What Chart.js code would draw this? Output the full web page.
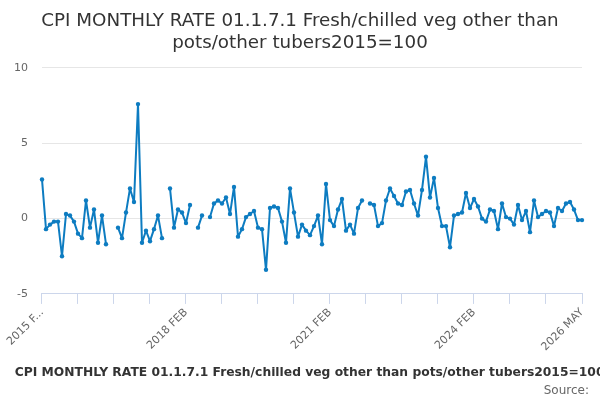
<!DOCTYPE html>
<html>
<head>
<meta charset="utf-8">
<script src="https://cdn.jsdelivr.net/npm/chart.js@4/dist/chart.umd.min.js"></script>
<style>
  html, body { margin: 0; padding: 0; background: #fff; }
  #wrap { width: 600px; height: 400px; }
</style>
</head>
<body>
<div id="wrap"><canvas id="cpiChart"></canvas></div>
<script>
// Dane wykresu
const titleLines = ["CPI MONTHLY RATE 01.1.7.1 Fresh/chilled veg other than", "pots/other tubers2015=100"];
const seriesName = "CPI MONTHLY RATE 01.1.7.1 Fresh/chilled veg other than pots/other tubers2015=100";
const monthNames = ["JAN", "FEB", "MAR", "APR", "MAY", "JUN", "JUL", "AUG", "SEP", "OCT", "NOV", "DEC"];
const startYear = 2015;
const startMonth = 1; // FEB
const monthlyRate = [
  2.6, -0.7, -0.4, -0.2, -0.2, -2.5, 0.3, 0.2, -0.2, -1.0, -1.3, 1.2,
  -0.6, 0.6, -1.6, 0.2, -1.7, null, null, -0.6, -1.3, 0.4, 2.0, 1.1,
  7.6, -1.6, -0.8, -1.5, -0.7, 0.2, -1.3, null, 2.0, -0.6, 0.6, 0.4,
  -0.3, 0.9, null, -0.6, 0.2, null, 0.1, 1.0, 1.2, 1.0, 1.4, 0.3,
  2.1, -1.2, -0.7, 0.1, 0.3, 0.5, -0.6, -0.7, -3.4, 0.7, 0.8, 0.7,
  -0.2, -1.6, 2.0, 0.4, -1.2, -0.4, -0.8, -1.1, -0.5, 0.2, -1.7, 2.3,
  -0.1, -0.5, 0.6, 1.3, -0.8, -0.4, -1.0, 0.7, 1.2, null, 1.0, 0.9,
  -0.5, -0.3, 1.2, 2.0, 1.5, 1.0, 0.9, 1.8, 1.9, 1.0, 0.2, 1.9,
  4.1, 1.4, 2.7, 0.7, -0.5, -0.5, -1.9, 0.2, 0.3, 0.4, 1.7, 0.7,
  1.3, 0.8, 0.0, -0.2, 0.6, 0.5, -0.7, 1.0, 0.1, 0.0, -0.4, 0.9,
  -0.1, 0.5, -0.9, 1.2, 0.1, 0.3, 0.5, 0.4, -0.5, 0.7, 0.5, 1.0,
  1.1, 0.6, -0.1, -0.1
];
const yTicks = [-5, 0, 5, 10];
const firstTickText = "2015 F...";
const sourceText = "Source:";

// Etykiety miesięcy
const labels = monthlyRate.map((v, i) => {
  const m = startMonth + i;
  return (startYear + Math.floor(m / 12)) + " " + monthNames[m % 12];
});

const lineColor = "#0d7cc1";
const fontFamily = "'DejaVu Sans', Verdana, sans-serif";

// Napis "Source:" w prawym dolnym rogu
const sourcePlugin = {
  id: "sourceText",
  afterDraw(chart) {
    const c = chart.ctx;
    c.save();
    c.font = "12px " + fontFamily;
    c.fillStyle = "#666666";
    c.textAlign = "right";
    c.textBaseline = "middle";
    c.fillText(sourceText, 589, 391);
    c.restore();
  }
};

function initChart() {
  const ctx = document.getElementById("cpiChart").getContext("2d");
  new Chart(ctx, {
    type: "line",
    data: {
      labels: labels,
      datasets: [{
        label: seriesName,
        data: monthlyRate,
        borderColor: lineColor,
        backgroundColor: lineColor,
        borderWidth: 2,
        borderJoinStyle: "round",
        pointRadius: 2.2,
        pointBackgroundColor: lineColor,
        pointBorderWidth: 0,
        spanGaps: false,
        tension: 0
      }]
    },
    options: {
      responsive: true,
      maintainAspectRatio: false,
      animation: false,
      events: [],
      layout: { padding: { left: 0, right: 0, top: 4, bottom: 11 } },
      scales: {
        x: {
          offset: false,
          grid: {
            drawOnChartArea: false,
            drawTicks: true,
            tickLength: 10,
            color: c => (c.index % 9 === 0 ? "#ccd6eb" : "rgba(0,0,0,0)")
          },
          border: { display: true, color: "#ccd6eb", width: 1 },
          ticks: {
            autoSkip: false,
            minRotation: 45,
            maxRotation: 45,
            color: "#666666",
            font: { family: fontFamily, size: 11 },
            padding: 2,
            callback: function (value, index) {
              if (index % 36 === 0 || index === labels.length - 1) {
                return index === 0 ? firstTickText : this.getLabelForValue(value);
              }
              return "";
            }
          }
        },
        y: {
          min: yTicks[0],
          max: yTicks[yTicks.length - 1],
          afterBuildTicks: axis => { axis.ticks = yTicks.map(v => ({ value: v })); },
          grid: { color: "#e6e6e6", drawTicks: false },
          border: { display: false },
          ticks: {
            color: "#666666",
            font: { family: fontFamily, size: 11 },
            padding: 14
          }
        },
        // pusty margines po prawej stronie obszaru wykresu
        yRight: {
          position: "right",
          display: true,
          grid: { display: false },
          border: { display: false },
          ticks: { display: false },
          afterFit: s => { s.width = 18; }
        }
      },
      plugins: {
        title: {
          display: true,
          text: titleLines,
          color: "#333333",
          font: { family: fontFamily, size: 18.3, weight: "normal", lineHeight: 1.2 },
          padding: { top: 6, bottom: 14 }
        },
        legend: {
          display: true,
          position: "bottom",
          labels: {
            color: "#333333",
            font: { family: fontFamily, size: 12.3, weight: "bold" },
            usePointStyle: true,
            pointStyle: "line",
            pointStyleWidth: 13,
            padding: 11
          }
        },
        tooltip: { enabled: false }
      }
    },
    plugins: [sourcePlugin]
  });
}

document.addEventListener("DOMContentLoaded", initChart);
</script>
</body>
</html>
